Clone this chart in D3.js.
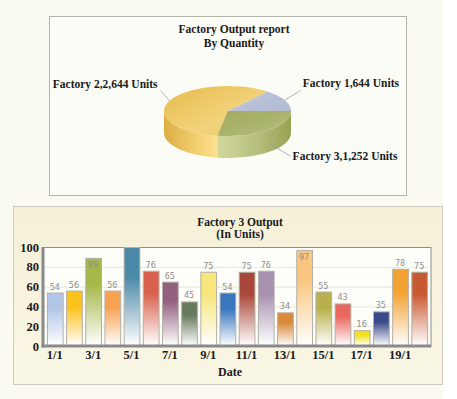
<!DOCTYPE html>
<html>
<head>
<meta charset="utf-8">
<script src="https://cdn.jsdelivr.net/npm/d3@7"></script>
<style>
  html, body { margin: 0; padding: 0; background: #ffffff; }
  svg { display: block; }
  .bold { font-family: "Liberation Serif", "DejaVu Serif", serif; font-weight: bold; fill: #1a1a1a; }
</style>
</head>
<body>
<script>
// pie data
var pieNames = ["Factory 1", "Factory 2", "Factory 3"];
var pieValues = [644, 2644, 1252];

// bar data
var dates = ["1/1","2/1","3/1","4/1","5/1","6/1","7/1","8/1","9/1","10/1",
             "11/1","12/1","13/1","14/1","15/1","16/1","17/1","18/1","19/1","20/1"];
var units = [54, 56, 89, 56, 100, 76, 65, 45, 75, 54, 75, 76, 34, 97, 55, 43, 16, 35, 78, 75];
var barColors = ["#b4c6e6","#fcc21c","#a6b84a","#f7a152","#4a89a8","#d9624f","#94607f","#687a5e","#f6e67c","#3877bf",
                 "#a8483a","#a790b0","#d98a3a","#f8c67e","#b8b04a","#e8675e","#f0e020","#3a4a8a","#f2a232","#c85a32"];
var yTicks = [0, 20, 40, 60, 80, 100];

var W = 457, H = 399;
var svg = d3.select("body").append("svg").attr("width", W).attr("height", H);
var defs = svg.append("defs");

svg.append("rect").attr("width", W).attr("height", H).attr("fill", "#ffffff");
svg.append("rect").attr("width", 443).attr("height", H).attr("fill", "#fafaf1");

function gradient(id, x1, y1, x2, y2, stops) {
    var g = defs.append("linearGradient").attr("id", id)
        .attr("x1", x1).attr("y1", y1).attr("x2", x2).attr("y2", y2);
    stops.forEach(function (s) {
        g.append("stop").attr("offset", s[0]).attr("stop-color", s[1]);
    });
}

//---------------- top panel: 3D pie ----------------
svg.append("rect").attr("x", 49.5).attr("y", 16.5).attr("width", 357).attr("height", 179)
    .attr("fill", "#fcfcf6").attr("stroke", "#b4b4ac");

svg.append("text").attr("class", "bold").attr("x", 234).attr("y", 33)
    .attr("text-anchor", "middle").style("font-size", "11.5px").text("Factory Output report");
svg.append("text").attr("class", "bold").attr("x", 234).attr("y", 47)
    .attr("text-anchor", "middle").style("font-size", "11.5px").text("By Quantity");

var cx = 227.5, cy = 111, rx = 63.5, ry = 25, depth = 22;
var total = d3.sum(pieValues);

// slices run clockwise on screen: Factory 1, Factory 3, Factory 2
var order = [0, 2, 1];
var start = Math.PI / 2 - 2 * Math.PI * pieValues[0] / total;
var pie = d3.pie().sort(null).value(function (i) { return pieValues[i]; })
    .startAngle(start).endAngle(start + 2 * Math.PI);
var arcs = pie(order);

// d3 angle (from 12 o'clock) -> point on ellipse
function pt(a, dy) {
    var s = a - Math.PI / 2;
    return [cx + rx * Math.cos(s), cy + ry * Math.sin(s) + (dy || 0)];
}

gradient("side1", 0, 0, 1, 0, [[0, "#b9c1d9"], [1, "#b9c1d9"]]);
gradient("side2", 0, 0, 1, 0, [[0, "#dcae44"], [0.55, "#f0cc6c"], [1, "#fbe08e"]]);
gradient("side3", 0, 0, 1, 0, [[0, "#d2d89c"], [0.5, "#b9c180"], [1, "#98a252"]]);
gradient("top1", 0, 0, 1, 1, [[0, "#c0c7dd"], [1, "#b2bad2"]]);
gradient("top2", 0, 0, 1, 1, [[0, "#e6bb4c"], [0.6, "#f2d27a"], [1, "#eccb6a"]]);
gradient("top3", 0, 0, 1, 1, [[0, "#a2ab5e"], [0.5, "#aab36c"], [1, "#b8c084"]]);

// side walls (front half only: d3 angles 90..270 deg)
var sides = svg.append("g");
arcs.forEach(function (d) {
    var lo = Math.PI / 2, hi = 3 * Math.PI / 2;
    var a0 = Math.max(d.startAngle, lo), a1 = Math.min(d.endAngle, hi);
    if (a1 <= a0) return;
    var p0 = pt(a0), p1 = pt(a1), q0 = pt(a0, depth), q1 = pt(a1, depth);
    var large = (a1 - a0) > Math.PI ? 1 : 0;
    var path = "M" + p0 + "A" + rx + "," + ry + " 0 " + large + " 1 " + p1 +
        "L" + q1 + "A" + rx + "," + ry + " 0 " + large + " 0 " + q0 + "Z";
    sides.append("path").attr("d", path).attr("fill", "url(#side" + (d.data + 1) + ")");
});

var tops = svg.append("g");
arcs.forEach(function (d) {
    var p0 = pt(d.startAngle), p1 = pt(d.endAngle);
    var large = (d.endAngle - d.startAngle) > Math.PI ? 1 : 0;
    var path = "M" + cx + "," + cy + "L" + p0 + "A" + rx + "," + ry + " 0 " + large + " 1 " + p1 + "Z";
    tops.append("path").attr("d", path).attr("fill", "url(#top" + (d.data + 1) + ")");
});

// labels with leader lines
var fmt = d3.format(",");
arcs.forEach(function (d) {
    var mid = (d.startAngle + d.endAngle) / 2;
    var s = mid - Math.PI / 2;
    var c = Math.cos(s), sn = Math.sin(s);
    var a = pt(mid, sn > 0 ? depth * 0.6 : 0);
    var e = sn > 0 ? [a[0] + 22, a[1] + 13] : [a[0] + (c > 0 ? 16 : -9), a[1] - 10];
    svg.append("line").attr("x1", a[0]).attr("y1", a[1]).attr("x2", e[0]).attr("y2", e[1])
        .attr("stroke", "#a0a0a0").attr("stroke-width", 0.8);
    svg.append("text").attr("class", "bold")
        .attr("x", e[0] + (c > 0 ? 2 : -3)).attr("y", e[1] + (sn > 0 ? 4 : -3))
        .attr("text-anchor", c > 0 ? "start" : "end")
        .style("font-size", "11.5px")
        .text(pieNames[d.data] + "," + fmt(pieValues[d.data]) + " Units");
});

//---------------- bottom panel: bar chart ----------------
gradient("panel", 0, 0, 0, 1, [[0, "#f5f0d7"], [1, "#f9f6e5"]]);
svg.append("rect").attr("x", 13.5).attr("y", 206.5).attr("width", 429).attr("height", 178)
    .attr("fill", "url(#panel)").attr("stroke", "#cfcbbf");

svg.append("text").attr("class", "bold").attr("x", 240).attr("y", 226)
    .attr("text-anchor", "middle").style("font-size", "11.5px").text("Factory 3 Output");
svg.append("text").attr("class", "bold").attr("x", 240).attr("y", 238)
    .attr("text-anchor", "middle").style("font-size", "11.5px").text("(In Units)");

var pLeft = 43, pRight = 431, pTop = 247, pBottom = 346;
var x = d3.scaleBand().domain(dates).range([pLeft + 2, pRight - 2]).paddingInner(0.18).paddingOuter(0.1);
var y = d3.scaleLinear().domain([0, 100]).range([pBottom, pTop]);

svg.append("rect").attr("x", pLeft).attr("y", pTop + 0.5).attr("width", pRight - pLeft).attr("height", pBottom - pTop)
    .attr("fill", "#fdfdf9").attr("stroke", "#8c8c8c").attr("stroke-width", 1);

svg.append("g").selectAll("line").data(yTicks.slice(1, -1)).enter().append("line")
    .attr("x1", pLeft).attr("x2", pRight)
    .attr("y1", function (d) { return y(d) + 0.5; }).attr("y2", function (d) { return y(d) + 0.5; })
    .attr("stroke", "#ebe6d6");

units.forEach(function (v, i) {
    gradient("bar" + i, 0, 0, 0, 1, [[0, barColors[i]], [0.3, barColors[i]], [1, "#ffffff"]]);
});

svg.append("g").selectAll("rect").data(units).enter().append("rect")
    .attr("x", function (d, i) { return x(dates[i]) + 0.5; })
    .attr("y", function (d) { return y(d) + 0.5; })
    .attr("width", x.bandwidth())
    .attr("height", function (d) { return pBottom - y(d) - 1; })
    .attr("fill", function (d, i) { return "url(#bar" + i + ")"; })
    .attr("stroke", "#b3b0a8").attr("stroke-width", 1);

// value labels; the full-height bar has its label clipped away
svg.append("g").selectAll("text").data(units).enter().append("text")
    .attr("x", function (d, i) { return x(dates[i]) + x.bandwidth() / 2; })
    .attr("y", function (d) { return d > 85 ? y(d) + 10 : y(d) - 3; })
    .attr("text-anchor", "middle")
    .style("font-family", "'DejaVu Sans', sans-serif").style("font-size", "8px")
    .attr("fill", "#8e8e8e")
    .text(function (d) { return d < 100 ? d : ""; });

// heavy left and bottom axis lines
svg.append("line").attr("x1", pLeft).attr("x2", pLeft).attr("y1", pTop).attr("y2", pBottom + 1.5)
    .attr("stroke", "#8a8a8a").attr("stroke-width", 3);
svg.append("line").attr("x1", pLeft - 1.5).attr("x2", pRight).attr("y1", pBottom).attr("y2", pBottom)
    .attr("stroke", "#8a8a8a").attr("stroke-width", 3);

var yAxis = svg.append("g").attr("transform", "translate(" + (pLeft - 4) + ",0)")
    .call(d3.axisLeft(y).tickValues(yTicks).tickSize(0).tickPadding(0));
yAxis.select(".domain").remove();
yAxis.selectAll("text").attr("class", "bold").style("font-size", "12.5px").attr("fill", "#1a1a1a");

var xAxis = svg.append("g").attr("transform", "translate(0," + (pBottom + 4) + ")")
    .call(d3.axisBottom(x).tickValues(dates.filter(function (d, i) { return i % 2 === 0; }))
        .tickSize(0).tickPadding(0));
xAxis.select(".domain").remove();
xAxis.selectAll("text").attr("class", "bold").style("font-size", "12.5px").attr("fill", "#1a1a1a");

svg.append("text").attr("class", "bold").attr("x", 230).attr("y", 376)
    .attr("text-anchor", "middle").style("font-size", "12px").text("Date");
</script>
</body>
</html>
